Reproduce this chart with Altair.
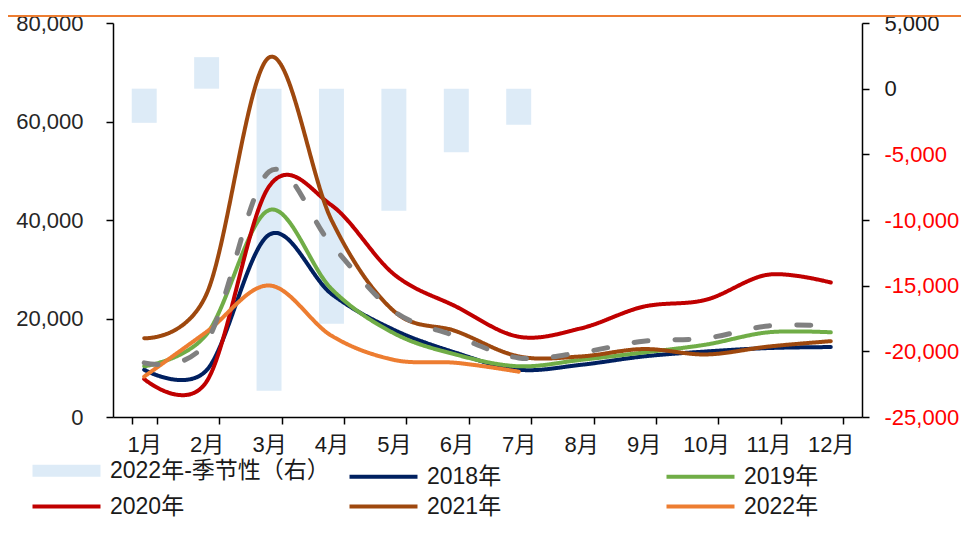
import altair as alt
import pandas as pd

months = [f"{i}月" for i in range(1, 13)]
seasonal_2022 = [-2600, 2400, -23000, -17900, -9300, -4850, -2750]
s2018 = [9600, 9500, 37000, 25000, 17700, 13000, 9600, 10600, 12300, 13300, 14000, 14200]
s2019 = [10300, 16800, 42000, 26000, 17000, 12650, 10300, 11600, 13100, 14700, 17200, 17200]
s2020 = [7700, 7200, 46800, 43000, 29000, 22400, 16300, 18000, 22400, 23800, 28900, 27300]
s2021 = [16000, 25000, 73000, 40000, 21500, 17400, 12300, 12300, 13800, 12700, 14300, 15400]
s2022 = [8200, 17300, 26700, 16500, 11600, 11000, 9200]
avg_18_20 = [11000, 15300, 49800, 35000, 21500, 16400, 12000, 13100, 15400, 16000, 18500, 18500]

series_names = ["2022年-季节性（右）", "2018年", "2019年", "2020年", "2021年", "2022年", "18-20年平均"]
colors = ["#DDEBF7", "#002060", "#70AD47", "#C00000", "#9E480E", "#ED7D31", "#808080"]
widths = [12, 4, 4, 4, 4, 4, 5]
dashes = [[1, 0], [1, 0], [1, 0], [1, 0], [1, 0], [1, 0], [14, 27]]

bar_df = pd.DataFrame({"month": months[:len(seasonal_2022)], "value": seasonal_2022})

rows = []
for name, vals in [("2018年", s2018), ("2019年", s2019), ("2020年", s2020),
                   ("2021年", s2021), ("2022年", s2022), ("18-20年平均", avg_18_20)]:
    for m, v in zip(months, vals):
        rows.append({"month": m, "series": name, "value": v})
line_df = pd.DataFrame(rows)

xenc = alt.X("month:N", sort=months,
             scale=alt.Scale(paddingInner=0.6, paddingOuter=0.3),
             axis=alt.Axis(title=None, tickBand="extent", labelAngle=0, labelFontSize=22,
                           labelPadding=10, tickSize=7, tickColor="black", domainColor="black",
                           domainWidth=1.5, tickWidth=1.5, labelColor="#1a1a1a", grid=False))

bars = alt.Chart(bar_df).mark_bar(color="#DDEBF7").encode(
    x=xenc,
    y=alt.Y("value:Q", scale=alt.Scale(domain=[-25000, 5000], nice=False, zero=False),
            axis=alt.Axis(orient="right", title=None,
                          values=[-25000, -20000, -15000, -10000, -5000, 0, 5000],
                          labelExpr="datum.value < 0 ? '-' + format(-datum.value, ',') : format(datum.value, ',')",
                          labelColor={"expr": "datum.value < 0 ? '#FF0000' : '#1a1a1a'"},
                          labelFontSize=22, labelPadding=15, tickSize=7, tickColor="black",
                          domainColor="black", domainWidth=1.5, tickWidth=1.5, grid=False)),
)

leg = alt.Legend(orient="none", legendX=-87, legendY=436, direction="horizontal", columns=3,
                 gridAlign="all", columnPadding=11, rowPadding=0, symbolType="M-1,0H12.6",
                 symbolSize=100, labelFontSize=23, labelOffset=61,
                 title=None, padding=0, labelLimit=0, labelColor="#1a1a1a")

lines = alt.Chart(line_df).mark_line(interpolate="cardinal", strokeCap="round", strokeJoin="round").encode(
    x=xenc,
    y=alt.Y("value:Q", scale=alt.Scale(domain=[0, 80000], nice=False),
            axis=alt.Axis(orient="left", title=None, values=[0, 20000, 40000, 60000, 80000],
                          labelExpr="format(datum.value, ',')", labelFontSize=22, labelPadding=23,
                          tickSize=7, tickColor="black", domainColor="black", domainWidth=1.5,
                          tickWidth=1.5, labelColor="#262626", grid=False)),
    color=alt.Color("series:N", scale=alt.Scale(domain=series_names, range=colors), legend=leg),
    strokeDash=alt.StrokeDash("series:N", scale=alt.Scale(type="ordinal", domain=series_names, range=dashes), legend=leg),
    strokeWidth=alt.StrokeWidth("series:N", scale=alt.Scale(type="ordinal", domain=series_names, range=widths), legend=leg),
    detail="series:N",
)

topline = alt.Chart(alt.Data(values=[{"a": 1}])).mark_rule(color="#ED7D31", strokeWidth=2).encode(
    x=alt.value(-105), x2=alt.value(848), y=alt.value(-7)
)

chart = alt.layer(bars, lines, topline).resolve_scale(y="independent").properties(
    width=749, height=394,
    autosize=alt.AutoSizeParams(type="none"),
    padding={"left": 105, "top": 15, "right": 99, "bottom": 113},
).configure(font="Liberation Sans, Arial, Noto Sans CJK SC, sans-serif").configure_view(stroke=None)

chart.save("out.html", embed_options={"renderer": "svg", "actions": False})
